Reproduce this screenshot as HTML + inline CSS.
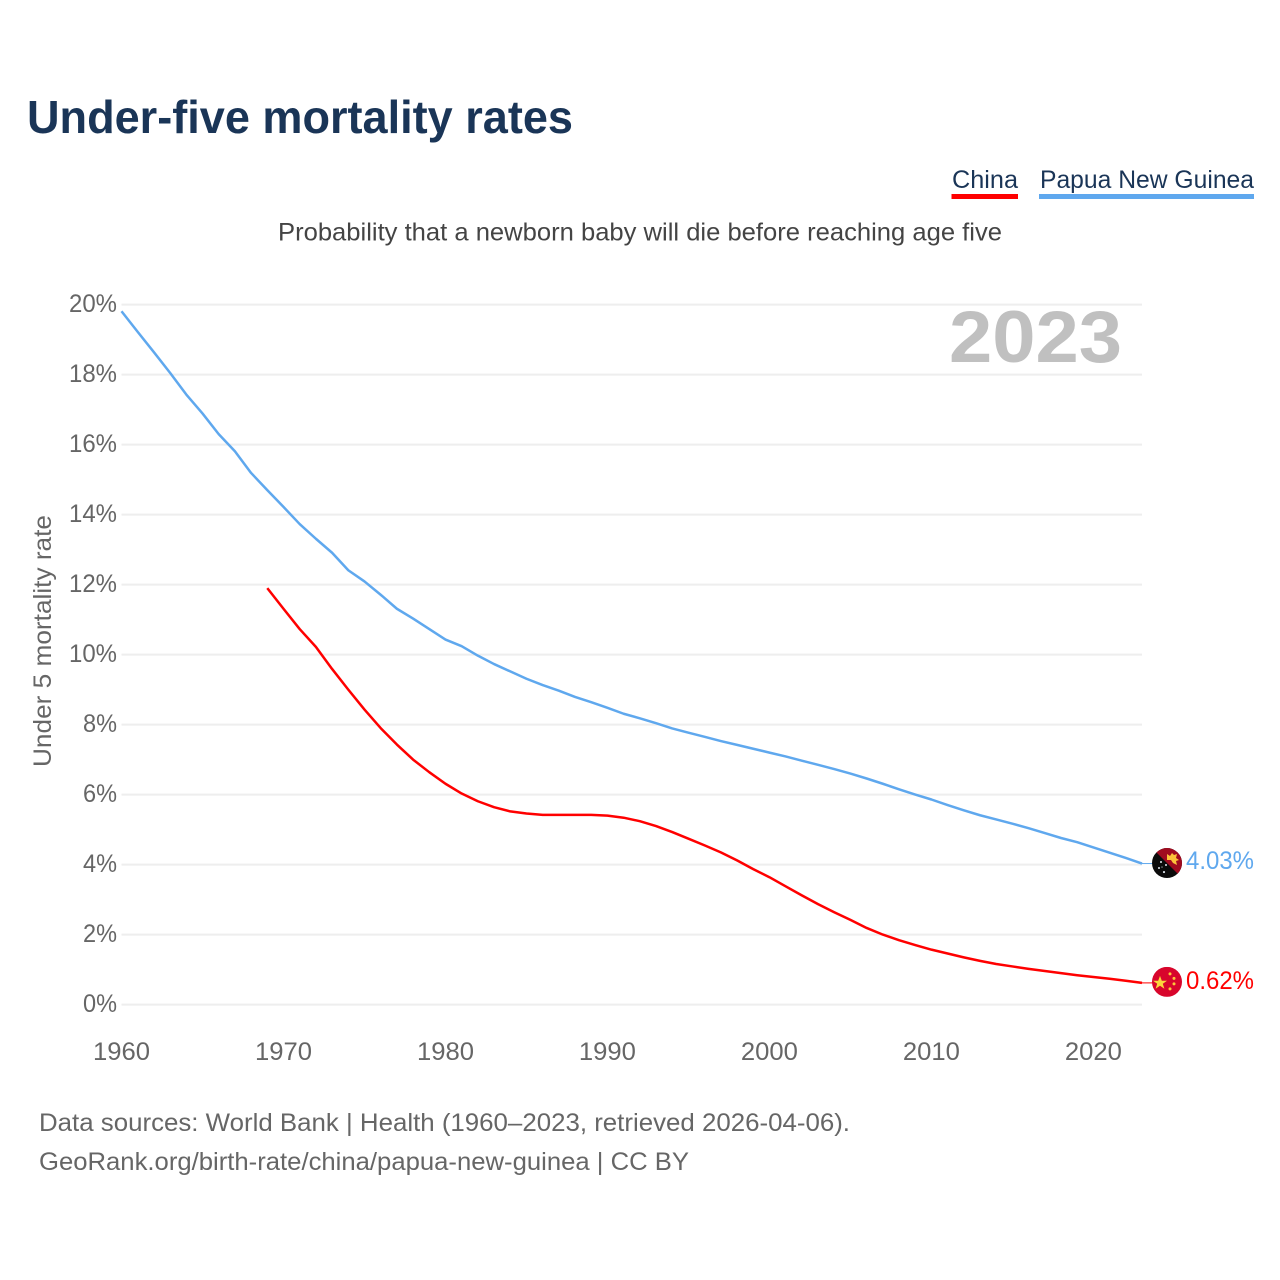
<!DOCTYPE html>
<html lang="en">
<head>
<meta charset="utf-8">
<title>Under-five mortality rates</title>
<style>
html,body{margin:0;padding:0;background:#fff;width:1280px;height:1280px;overflow:hidden}
svg{display:block}
text{font-family:"Liberation Sans",sans-serif}
</style>
</head>
<body>
<svg id="chart" width="1280" height="1280" viewBox="0 0 1280 1280" xmlns="http://www.w3.org/2000/svg">
  <defs>
    <clipPath id="flag-clip-png"><circle cx="0" cy="0" r="15"/></clipPath>
    <clipPath id="flag-clip-cn"><circle cx="0" cy="0" r="15"/></clipPath>
  </defs>
  <rect width="1280" height="1280" fill="#fff"/>
  <text x="27" y="133" font-size="46" font-weight="700" fill="#1a3557" textLength="546" lengthAdjust="spacingAndGlyphs">Under-five mortality rates</text>
  <g>
    <g>
      <text x="952" y="188" font-size="25" fill="#1a3557" textLength="66" lengthAdjust="spacingAndGlyphs">China</text>
      <rect x="951.5" y="194" width="66.5" height="5" fill="#ff0000"/>
    </g>
    <g>
      <text x="1040" y="188" font-size="25" fill="#1a3557" textLength="214" lengthAdjust="spacingAndGlyphs">Papua New Guinea</text>
      <rect x="1039" y="194" width="215" height="5" fill="#5fa8ee"/>
    </g>
  </g>
  <text x="278" y="240.5" font-size="25" fill="#444" textLength="724" lengthAdjust="spacingAndGlyphs">Probability that a newborn baby will die before reaching age five</text>
  <g id="grid"></g>
  <g id="yticks"></g>
  <g id="xticks"></g>
  <text transform="translate(51,767) rotate(-90)" x="0" y="0" font-size="25" fill="#666" textLength="252" lengthAdjust="spacingAndGlyphs">Under 5 mortality rate</text>
  <text x="949" y="362" font-size="73" font-weight="700" fill="#c0c0c0" textLength="173" lengthAdjust="spacingAndGlyphs">2023</text>
  <g id="series"></g>
  <g id="flag-png">
    <g clip-path="url(#flag-clip-png)">
      <rect x="-15" y="-15" width="30" height="30" fill="#0b0b0b"/>
      <polygon points="-15,-15 15,-15 15,15" fill="#a00b20"/>
      <polygon points="0,-9 3,-7 5,-10 7,-8 10,-9 9,-5 12,-3 9,-2 10,2 6,0 4,-3 0,-3" fill="#fcc33a"/>
      <g fill="#dfe6ee">
        <circle cx="-6" cy="-1" r="1"/><circle cx="-1" cy="2" r="1"/><circle cx="-8" cy="5" r="1"/><circle cx="-3" cy="9" r="1.1"/><circle cx="-5" cy="4" r=".6"/>
      </g>
    </g>
  </g>
  <g id="flag-cn">
    <g clip-path="url(#flag-clip-cn)">
      <rect x="-15" y="-15" width="30" height="30" fill="#d8062c"/>
      <polygon points="-7,-6 -5.2,-1.2 0,-1.2 -4.2,1.8 -2.6,6.8 -7,3.8 -11.4,6.8 -9.8,1.8 -14,-1.2 -8.8,-1.2" fill="#fbd73c"/>
      <g fill="#fbc93a">
        <circle cx="3" cy="-8" r="1.5"/><circle cx="7" cy="-3.5" r="1.5"/><circle cx="7" cy="2" r="1.5"/><circle cx="3" cy="7" r="1.5"/>
      </g>
    </g>
  </g>
  <text x="39" y="1131" font-size="25" fill="#666" textLength="811" lengthAdjust="spacingAndGlyphs">Data sources: World Bank | Health (1960–2023, retrieved 2026-04-06).</text>
  <text x="39" y="1170" font-size="25" fill="#666" textLength="650" lengthAdjust="spacingAndGlyphs">GeoRank.org/birth-rate/china/papua-new-guinea | CC BY</text>
</svg>
<script>
const startYear = 1960;
const endYear = 2023;
const yTickValues = [0, 2, 4, 6, 8, 10, 12, 14, 16, 18, 20];
const xTickYears = [1960, 1970, 1980, 1990, 2000, 2010, 2020];
const pngStartYear = 1960;
const pngValues = [19.81, 19.22, 18.64, 18.05, 17.43, 16.89, 16.3, 15.81, 15.19, 14.7,
  14.22, 13.73, 13.31, 12.91, 12.41, 12.09, 11.71, 11.31, 11.03, 10.73,
  10.43, 10.24, 9.97, 9.73, 9.52, 9.31, 9.13, 8.97, 8.79, 8.64,
  8.48, 8.31, 8.18, 8.04, 7.89, 7.77, 7.65, 7.53, 7.42, 7.31,
  7.2, 7.09, 6.97, 6.85, 6.73, 6.6, 6.46, 6.31, 6.15, 6.0,
  5.86, 5.7, 5.55, 5.41, 5.29, 5.17, 5.04, 4.9, 4.76, 4.64,
  4.49, 4.34, 4.19, 4.03];
const chinaStartYear = 1969;
const chinaValues = [11.9, 11.31, 10.73, 10.22, 9.59, 9.0, 8.43, 7.9, 7.43, 7.0,
  6.64, 6.31, 6.03, 5.81, 5.64, 5.52, 5.46, 5.42, 5.42, 5.42,
  5.42, 5.4, 5.34, 5.24, 5.1, 4.93, 4.74, 4.55, 4.35, 4.12,
  3.87, 3.64, 3.38, 3.12, 2.87, 2.64, 2.42, 2.19, 2.0, 1.84,
  1.7, 1.57, 1.46, 1.35, 1.25, 1.16, 1.09, 1.02, 0.96, 0.9,
  0.84, 0.79, 0.74, 0.68, 0.62];

const NS = 'http://www.w3.org/2000/svg';
const plotLeft = 121.5, plotRight = 1142, yZero = 1004.6, yTop = 304.6;
function xScale(year){ return plotLeft + (year - startYear) * (plotRight - plotLeft) / (endYear - startYear); }
function yScale(v){ return yZero - v * (yZero - yTop) / 20; }
function make(tag, attrs, parent){
  const el = document.createElementNS(NS, tag);
  for (const k in attrs) el.setAttribute(k, attrs[k]);
  parent.appendChild(el);
  return el;
}
const gridG = document.getElementById('grid');
const yG = document.getElementById('yticks');
const xG = document.getElementById('xticks');
const seriesG = document.getElementById('series');
const svgRoot = document.getElementById('chart');

yTickValues.forEach(function(v){
  const line = make('line', {x1: plotLeft, x2: plotRight, y1: yScale(v), y2: yScale(v), stroke: '#eeeeee', 'stroke-width': 2}, gridG);
  
  
  const label = make('text', {x: 117, y: yScale(v) + 7.5, 'text-anchor': 'end', 'font-size': 25, fill: '#666', textLength: v >= 10 ? 48 : 34, lengthAdjust: 'spacingAndGlyphs'}, yG);
  
  
  label.textContent = v + '%';
});

xTickYears.forEach(function(y){
  const label = make('text', {x: xScale(y), y: 1060, 'text-anchor': 'middle', 'font-size': 25, fill: '#666', textLength: 57, lengthAdjust: 'spacingAndGlyphs'}, xG);
  
  
  label.textContent = y;
});

function pathFor(values, firstYear){
  return values.map(function(v, i){
    return (i ? 'L' : 'M') + xScale(firstYear + i).toFixed(2) + ' ' + yScale(v).toFixed(2);
  }).join(' ');
}

const pngLine = make('path', {d: pathFor(pngValues, pngStartYear), fill: 'none', stroke: '#5fa8ee', 'stroke-width': 2.5, 'stroke-linejoin': 'round'}, seriesG);



const chinaLine = make('path', {d: pathFor(chinaValues, chinaStartYear), fill: 'none', stroke: '#ff0000', 'stroke-width': 2.5, 'stroke-linejoin': 'round'}, seriesG);



const pngLast = pngValues[pngValues.length - 1];
const chinaLast = chinaValues[chinaValues.length - 1];

const pngStub = make('line', {x1: plotRight, x2: 1153, y1: yScale(pngLast), y2: yScale(pngLast), stroke: '#5fa8ee', 'stroke-width': 1}, seriesG);



const chinaStub = make('line', {x1: plotRight, x2: 1153, y1: yScale(chinaLast), y2: yScale(chinaLast), stroke: '#ff0000', 'stroke-width': 1}, seriesG);



document.getElementById('flag-png').setAttribute('transform', 'translate(1167,' + (yScale(pngLast) - 0.5) + ')');
document.getElementById('flag-cn').setAttribute('transform', 'translate(1167,' + (yScale(chinaLast) - 1) + ')');

const pngLabel = make('text', {x: 1186, y: yScale(pngLast) + 5.5, 'font-size': 25, fill: '#5fa8ee', textLength: 68, lengthAdjust: 'spacingAndGlyphs'}, svgRoot);


pngLabel.textContent = pngLast.toFixed(2) + '%';

const chinaLabel = make('text', {x: 1186, y: yScale(chinaLast) + 6, 'font-size': 25, fill: '#ff0000', textLength: 68, lengthAdjust: 'spacingAndGlyphs'}, svgRoot);


chinaLabel.textContent = chinaLast.toFixed(2) + '%';
</script>
</body>
</html>
